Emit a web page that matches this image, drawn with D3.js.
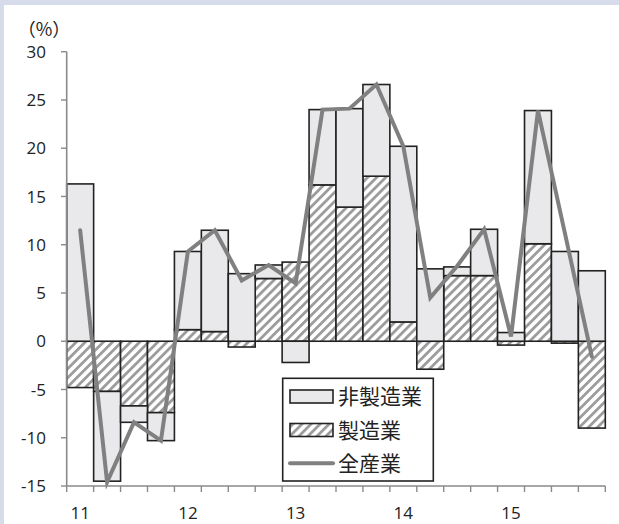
<!DOCTYPE html>
<html>
<head>
<meta charset="utf-8">
<script src="https://cdn.jsdelivr.net/npm/d3@7"></script>
<style>
  html, body { margin: 0; padding: 0; background: #d6dcea; }
  svg { display: block; }
</style>
</head>
<body>
<svg id="chart" width="619" height="524"></svg>
<script>
// Quarterly contributions (%), 2011Q1 – 2015Q4
const quarters = d3.range(20);
const yearLabels = ["11", "12", "13", "14", "15"];
const nonManufacturing = [16.3, -9.3, -1.7, -2.9, 8.1, 10.5, 7.0, 1.4, -2.2, 7.8, 10.2, 9.5, 18.2, 7.5, 0.9, 4.8, 0.9, 13.8, 9.3, 7.3];
const manufacturing    = [-4.8, -5.2, -6.7, -7.4, 1.2, 1.0, -0.6, 6.5, 8.2, 16.2, 13.9, 17.1, 2.0, -2.9, 6.8, 6.8, -0.4, 10.1, -0.2, -9.0];
const allIndustries    = [11.5, -14.6, -8.4, -10.3, 9.3, 11.5, 6.3, 7.9, 6.0, 24.0, 24.1, 26.6, 20.2, 4.5, 7.8, 11.6, 0.5, 23.9, 11.2, -1.6];
const yTicks = [30, 25, 20, 15, 10, 5, 0, -5, -10, -15];
const legendLabels = ["非製造業", "製造業", "全産業"];

const svg = d3.select("#chart");

// white panel
svg.append("rect").attr("x", 4).attr("y", 5).attr("width", 615).attr("height", 519).attr("fill", "#fff");

const defs = svg.append("defs");
const hatch = defs.append("pattern")
  .attr("id", "hatch")
  .attr("patternUnits", "userSpaceOnUse")
  .attr("width", 6.4).attr("height", 6.4)
  .attr("patternTransform", "rotate(45)");
hatch.append("rect").attr("width", 6.4).attr("height", 6.4).attr("fill", "#fff");
hatch.append("rect").attr("width", 2.8).attr("height", 6.4).attr("fill", "#9c9c9c");

const x = d3.scaleBand().domain(quarters).range([66.7, 605.3]).padding(0);
const y = d3.scaleLinear().domain([-15, 30]).range([486, 51.7]);

// stacked bars: manufacturing nearest zero, non-manufacturing outside
const rows = quarters.map(i => ({ i, mfg: manufacturing[i], non: nonManufacturing[i] }));
const series = d3.stack().keys(["mfg", "non"]).offset(d3.stackOffsetDiverging)(rows);
const fills = { mfg: "url(#hatch)", non: "#e9e9eb" };

series.forEach(s => {
  svg.append("g")
    .selectAll("rect")
    .data(s)
    .join("rect")
    .attr("x", d => x(d.data.i))
    .attr("width", x.bandwidth())
    .attr("y", d => y(Math.max(d[0], d[1])))
    .attr("height", d => Math.abs(y(d[0]) - y(d[1])))
    .attr("fill", fills[s.key])
    .attr("stroke", "#222")
    .attr("stroke-width", 1.6);
});

// total line
const line = d3.line()
  .x((d, i) => x(i) + x.bandwidth() / 2)
  .y(d => y(d));
svg.append("path")
  .datum(allIndustries)
  .attr("d", line)
  .attr("fill", "none")
  .attr("stroke", "#808080")
  .attr("stroke-width", 4)
  .attr("stroke-linejoin", "miter")
  .attr("stroke-linecap", "round");

// y axis
const axisColor = "#8a8a8a";
svg.append("line").attr("x1", 66.7).attr("x2", 66.7).attr("y1", y(30)).attr("y2", y(-15))
  .attr("stroke", axisColor).attr("stroke-width", 1.6);
svg.append("g").selectAll("line").data(yTicks).join("line")
  .attr("x1", 61).attr("x2", 66.7)
  .attr("y1", d => y(d)).attr("y2", d => y(d))
  .attr("stroke", axisColor).attr("stroke-width", 1.4);
svg.append("g").selectAll("text").data(yTicks).join("text")
  .attr("x", 46).attr("y", d => y(d))
  .attr("dy", "0.36em")
  .attr("text-anchor", "end")
  .attr("font-family", "'Open Sans', sans-serif")
  .attr("font-size", 17)
  .attr("fill", "#222")
  .text(d => d);
svg.append("text").attr("x", 44).attr("y", 36)
  .attr("text-anchor", "middle")
  .style("font-family", "'Noto Sans CJK JP', sans-serif")
  .style("font-size", "18px").attr("fill", "#222")
  .text("（%）");

// x axis at the bottom
svg.append("line").attr("x1", 66.7).attr("x2", 605.3).attr("y1", y(-15)).attr("y2", y(-15))
  .attr("stroke", axisColor).attr("stroke-width", 1.6);
const bounds = quarters.map(i => x(i)).concat([605.3]);
svg.append("g").selectAll("line").data(bounds).join("line")
  .attr("x1", d => d).attr("x2", d => d)
  .attr("y1", y(-15)).attr("y2", y(-15) + 6)
  .attr("stroke", axisColor).attr("stroke-width", 1.4);
svg.append("g").selectAll("text").data(yearLabels).join("text")
  .attr("x", (d, k) => x(k * 4) + x.bandwidth() / 2)
  .attr("y", 519)
  .attr("text-anchor", "middle")
  .attr("font-family", "'Open Sans', sans-serif")
  .attr("font-size", 17)
  .attr("fill", "#222")
  .text(d => d);

// legend
const lg = svg.append("g");
lg.append("rect").attr("x", 282.7).attr("y", 378.3).attr("width", 150.6).attr("height", 102.7)
  .attr("fill", "#fff").attr("stroke", "#222").attr("stroke-width", 1.6);
const rowsY = [396.5, 430, 463.3];
lg.append("rect").attr("x", 290).attr("y", rowsY[0] - 6.5).attr("width", 43).attr("height", 13)
  .attr("fill", fills.non).attr("stroke", "#222").attr("stroke-width", 1.6);
lg.append("rect").attr("x", 290).attr("y", rowsY[1] - 6.5).attr("width", 43).attr("height", 13)
  .attr("fill", fills.mfg).attr("stroke", "#222").attr("stroke-width", 1.6);
lg.append("line").attr("x1", 290).attr("x2", 333).attr("y1", rowsY[2]).attr("y2", rowsY[2])
  .attr("stroke", "#808080").attr("stroke-width", 4).attr("stroke-linecap", "round");
lg.selectAll("text").data(legendLabels).join("text")
  .attr("x", 338).attr("y", (d, k) => rowsY[k])
  .attr("dy", "0.36em")
  .attr("font-family", "'Noto Sans CJK JP', sans-serif")
  .attr("font-size", 21)
  .attr("fill", "#222")
  .text(d => d);
</script>
</body>
</html>
